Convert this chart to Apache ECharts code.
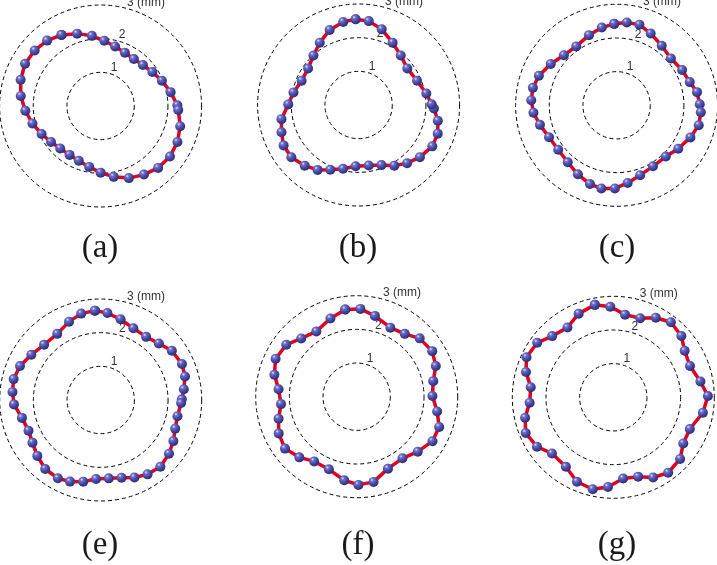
<!DOCTYPE html>
<html>
<head>
<meta charset="utf-8">
<script src="https://cdn.jsdelivr.net/npm/echarts@6/dist/echarts.min.js"></script>
<style>
html,body{margin:0;padding:0;background:#fff;}
#chart{width:717px;height:565px;}
</style>
</head>
<body>
<div id="chart"></div>
<script>
// ---- data (radius in mm, angle in degrees) ----
const panelLabels = ['(a)', '(b)', '(c)', '(e)', '(f)', '(g)'];
const ringTicks = [1, 2, 3];
const ringUnit = '(mm)';

const anglesA = [118.8,108,97.1,86.8,76.3,65.5,54.7,44.1,33.3,22.4,11.2,0.5,357,345.7,334.9,323.9,312.9,302.3,291.4,280.5,270,259.4,248.3,237.6,226.4,216,205.4,194.4,183.6,172.8,161.8,150.8,139.9,129.3];
const radiiA  = [2.41,2.26,2.10,1.94,1.82,1.74,1.71,1.75,1.84,1.97,2.12,2.28,2.31,2.44,2.52,2.55,2.51,2.41,2.30,2.14,1.98,1.84,1.75,1.72,1.74,1.82,1.94,2.09,2.24,2.39,2.50,2.57,2.56,2.51];

const anglesB = [92,100.5,111.1,121.9,132.4,144.2,156.9,169.1,179.5,190.4,199.5,208.3,217.8,228.4,237.7,246.4,256.3,267.2,279.5,290.8,300.5,309.8,319.6,330.7,340.1,348.7,357.4,0.5,9.6,22.5,36.9,49.6,61.4,73,83.1];
const radiiB  = [2.55,2.51,2.39,2.18,1.99,1.85,1.84,1.97,2.09,2.33,2.43,2.53,2.53,2.41,2.28,2.10,1.95,1.82,1.82,1.91,2.09,2.25,2.39,2.51,2.50,2.40,2.24,2.17,2.04,1.88,1.81,1.93,2.11,2.35,2.51];

const anglesC = [91.7,83,74.2,64.6,52.9,40.8,28.3,17.6,9.3,0.7,355.2,346.4,336.5,324.8,313.8,300.8,288.6,278.1,268.8,259.6,251.3,240.7,229.4,217.3,205.3,194.3,185.1,176.6,168.2,159.2,147.9,136.5,124.4,111.5,100.8];
const radiiC  = [2.42,2.48,2.49,2.36,2.22,2.13,2.21,2.28,2.42,2.47,2.51,2.51,2.39,2.24,2.11,2.11,2.19,2.33,2.47,2.51,2.47,2.35,2.23,2.18,2.22,2.35,2.48,2.54,2.54,2.47,2.31,2.16,2.12,2.24,2.35];

const anglesE = [93.7,85.6,76.2,65.5,54.3,44.2,34.7,23.9,15.6,7.4,0.5,357.8,348.1,339,330.5,321.8,311.8,302.2,293.5,285,275.9,266.6,257.9,249.4,241.3,231.2,221.4,212,203,192.8,182.9,174.8,166.5,157.2,146.9,135.7,123.3,112,102.7];
const radiiE  = [2.66,2.59,2.47,2.34,2.31,2.41,2.57,2.64,2.60,2.49,2.41,2.39,2.33,2.37,2.48,2.58,2.66,2.61,2.51,2.39,2.34,2.35,2.48,2.59,2.65,2.63,2.51,2.39,2.33,2.40,2.58,2.63,2.66,2.60,2.46,2.35,2.35,2.51,2.63];

const anglesF = [97.5,87.6,77.3,64,52.6,42.8,31.1,21.2,11.5,0.5,349.6,339.8,329.6,318,306.6,293.5,281.2,271.1,261.5,249,236.7,226.6,215.9,205.2,195.7,185.6,174.6,165.1,154.9,143.6,133.6,121.7,108.6];
const radiiF  = [2.61,2.61,2.46,2.28,2.35,2.55,2.62,2.52,2.32,2.25,2.43,2.61,2.61,2.44,2.28,2.33,2.58,2.62,2.51,2.31,2.30,2.48,2.63,2.56,2.41,2.26,2.33,2.53,2.66,2.60,2.39,2.28,2.45];

const anglesG = [101.3,91.9,81.9,71.2,61.9,52.5,42,33.1,22.2,10.3,0.8,350.2,337.5,326.6,317.3,306,296.4,287.4,276.9,266.6,257.4,246.7,235.7,222.5,212.9,202.2,193.1,183.7,173,163.8,155.2,144.4,135,123.3,112.5];
const radiiG  = [2.80,2.69,2.48,2.48,2.68,2.81,2.72,2.53,2.46,2.63,2.81,2.70,2.46,2.49,2.70,2.77,2.66,2.47,2.43,2.67,2.80,2.73,2.50,2.47,2.70,2.81,2.69,2.49,2.47,2.70,2.84,2.78,2.57,2.48,2.69];

// ---- layout ----
const panelAngles = [anglesA, anglesB, anglesC, anglesE, anglesF, anglesG];
const panelRadii = [radiiA, radiiB, radiiC, radiiE, radiiF, radiiG];
const centers = [[100.6,106],[358.6,105],[616.6,105.3],[100.7,400],[356.7,396.7],[613.3,397.3]];
const labelPos = [[100,248],[358,248],[617,248],[100,545],[358,545],[617,545]];
const R = 101;
const AXIS_ANGLE = 76;

const chart = echarts.init(document.getElementById('chart'), null, {renderer: 'canvas'});

const markerColor = new echarts.graphic.RadialGradient(0.35, 0.3, 0.75, [
  {offset: 0, color: '#e6e6ff'},
  {offset: 0.22, color: '#7070c8'},
  {offset: 0.6, color: '#45459f'},
  {offset: 1, color: '#2a2a72'}
]);

const polar = [], angleAxis = [], radiusAxis = [], series = [], title = [];
centers.forEach((c, i) => {
  polar.push({center: [c[0], c[1]], radius: R});
  angleAxis.push({
    polarIndex: i, type: 'value', min: AXIS_ANGLE, max: AXIS_ANGLE + 360,
    startAngle: AXIS_ANGLE, clockwise: false,
    axisLine: {show: false}, axisTick: {show: false}, axisLabel: {show: false}, splitLine: {show: false}
  });
  radiusAxis.push({
    polarIndex: i, type: 'value', min: 0, max: ringTicks[ringTicks.length - 1], interval: 1,
    axisLine: {show: false}, axisTick: {show: false},
    axisLabel: {
      show: true, margin: -2, align: 'left', verticalAlign: 'bottom',
      color: '#333', fontSize: 12, fontFamily: 'Liberation Sans',
      formatter: v => (ringTicks.indexOf(v) < 0 ? '' : (v === ringTicks[ringTicks.length - 1] ? v + ' ' + ringUnit : String(v)))
    },
    splitLine: {show: true, lineStyle: {type: [4, 3], color: '#000', width: 1}}
  });
  const angs = panelAngles[i], rads = panelRadii[i];
  const data = angs.map((a, k) => [rads[k], a < AXIS_ANGLE ? a + 360 : a]);
  data.push(data[0]);
  series.push({
    type: 'line', coordinateSystem: 'polar', polarIndex: i,
    data: data, smooth: false, clip: false,
    symbol: 'circle', symbolSize: 10, showAllSymbol: true,
    lineStyle: {color: '#e2001a', width: 3.5},
    itemStyle: {color: markerColor},
    z: 3
  });
  title.push({
    text: panelLabels[i], left: labelPos[i][0], top: labelPos[i][1], padding: 0,
    textAlign: 'center', textVerticalAlign: 'middle',
    textStyle: {fontFamily: 'Liberation Serif', fontSize: 33, fontWeight: 'normal', color: '#1a1a1a'}
  });
});

chart.setOption({
  animation: false,
  backgroundColor: '#fff',
  title: title,
  polar: polar,
  angleAxis: angleAxis,
  radiusAxis: radiusAxis,
  series: series
});
</script>
</body>
</html>
